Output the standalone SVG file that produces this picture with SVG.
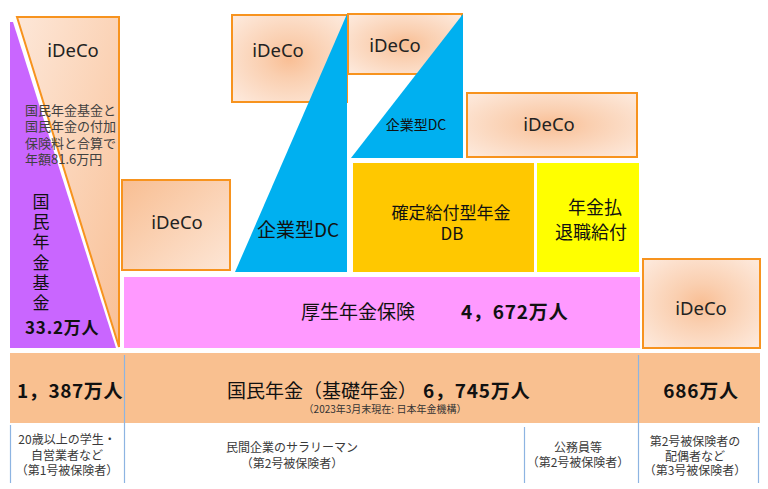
<svg xmlns="http://www.w3.org/2000/svg" width="768" height="489" viewBox="0 0 768 489">
<defs>
<radialGradient id="gR" cx="50%" cy="50%" r="65%">
<stop offset="0" stop-color="#F9BE94"/>
<stop offset="0.35" stop-color="#FACFB0"/>
<stop offset="1" stop-color="#FDE8DA"/>
</radialGradient>
<linearGradient id="gL" x1="0" y1="0" x2="1" y2="1">
<stop offset="0" stop-color="#F8BE92"/>
<stop offset="1" stop-color="#FDE6D6"/>
</linearGradient>
<linearGradient id="gT" x1="0" y1="0" x2="1" y2="1">
<stop offset="0" stop-color="#FDE7D8"/>
<stop offset="1" stop-color="#F9C096"/>
</linearGradient>
</defs>
<style>
.jp{font-family:"Noto Sans CJK JP","Noto Sans",sans-serif;fill:#111}
.ide{fill:url(#gR);stroke:#F7931E;stroke-width:2}
.lab{font-family:"Noto Sans","Noto Sans CJK JP",sans-serif;font-size:18.5px;fill:#222;text-anchor:middle}
.sm{font-family:"Noto Sans CJK JP",sans-serif;font-size:12px;fill:#3a3a3a;text-anchor:middle}
.b{font-weight:bold}
.vl{stroke:#8DB4E2;stroke-width:1.2}
</style>
<rect width="768" height="489" fill="#fff"/>

<g id="kokumin-kikin">
<polygon points="10,22 13,22 116,348 10,348" fill="#C966FF"/>
<text class="jp" x="41" y="193" font-size="17" writing-mode="tb" letter-spacing="3.2">国民年金基金</text>
<text class="jp b" x="25" y="334" font-size="17" letter-spacing="0.8">33.2万人</text>
</g>

<g id="ideco-1">
<polygon points="17,17 119,17 119,347" fill="url(#gT)" stroke="#F7931E" stroke-width="2"/>
<text class="lab" x="73" y="57">iDeCo</text>
<text class="jp" font-size="13" style="fill:#404040"><tspan x="25" y="115">国民年金基金と</tspan><tspan x="25" y="131">国民年金の付加</tspan><tspan x="25" y="148">保険料と合算で</tspan><tspan x="25" y="164">年額81.6万円</tspan></text>
</g>

<g id="ideco-2">
<rect class="ide" x="122" y="180" width="108" height="90" style="fill:url(#gL)"/>
<text class="lab" x="177" y="229">iDeCo</text>
</g>

<g id="ideco-3">
<rect class="ide" x="232" y="15" width="115" height="87"/>
<text class="lab" x="278" y="57">iDeCo</text>
</g>

<g id="dc-1">
<polygon points="347,14 347,272 235,272" fill="#00B0F0"/>
<text class="jp" x="298" y="237" font-size="19" text-anchor="middle">企業型DC</text>
</g>

<g id="ideco-4">
<rect class="ide" x="348" y="14" width="114" height="60"/>
<text class="lab" x="395" y="52">iDeCo</text>
</g>

<g id="dc-2">
<polygon points="463,14 463,158 351,158" fill="#00B0F0"/>
<text class="jp" x="416" y="130" font-size="14" text-anchor="middle">企業型DC</text>
</g>

<g id="ideco-5">
<rect class="ide" x="467" y="93" width="170" height="64"/>
<text class="lab" x="549" y="131">iDeCo</text>
</g>

<g id="db">
<rect x="353" y="163" width="181" height="109" fill="#FFC800"/>
<text class="jp" x="451" y="219" font-size="17" text-anchor="middle">確定給付型年金</text>
<text class="jp" x="452" y="240" font-size="17" text-anchor="middle">DB</text>
</g>

<g id="nenkin-barai">
<rect x="537" y="163" width="102" height="109" fill="#FFFF00"/>
<text class="jp" x="595" y="214" font-size="18" text-anchor="middle">年金払</text>
<text class="jp" x="591" y="239" font-size="18" text-anchor="middle">退職給付</text>
</g>

<g id="kosei">
<rect x="124" y="277" width="516" height="71" fill="#FF99FF"/>
<text class="jp" x="301" y="319" font-size="19">厚生年金保険</text>
<text class="jp b" x="461" y="319" font-size="19" letter-spacing="0.8">4，672万人</text>
</g>

<g id="ideco-6">
<rect class="ide" x="643" y="259" width="117" height="89"/>
<text class="lab" x="701" y="315">iDeCo</text>
</g>

<g id="kiso">
<rect x="10" y="353" width="750" height="70" fill="#F9C090"/>
<text class="jp b" x="17" y="398" font-size="19" letter-spacing="0.6">1，387万人</text>
<text class="jp" x="227" y="398" font-size="19">国民年金（基礎年金）</text>
<text class="jp b" x="423" y="398" font-size="19" letter-spacing="0.8">6，745万人</text>
<text class="jp" x="385" y="413" font-size="10" text-anchor="middle" style="fill:#333">（2023年3月末現在: 日本年金機構）</text>
<text class="jp b" x="701" y="398" font-size="19" text-anchor="middle" letter-spacing="0.8">686万人</text>
</g>

<g id="connectors">
<line class="vl" x1="10.5" y1="425" x2="10.5" y2="483"/>
<line class="vl" x1="124.5" y1="355" x2="124.5" y2="483" stroke="#8EA4C8"/>
<line class="vl" x1="524.5" y1="427" x2="524.5" y2="483"/>
<line class="vl" x1="638.5" y1="355" x2="638.5" y2="483" stroke="#8EA4C8"/>
<line class="vl" x1="758.5" y1="427" x2="758.5" y2="483"/>
</g>

<g id="labels">
<text class="sm"><tspan x="67" y="444">20歳以上の学生・</tspan><tspan x="67" y="460">自営業者など</tspan><tspan x="67" y="475">（第1号被保険者）</tspan></text>
<text class="sm"><tspan x="292" y="452">民間企業のサラリーマン</tspan><tspan x="292" y="468">（第2号被保険者）</tspan></text>
<text class="sm"><tspan x="578" y="452">公務員等</tspan><tspan x="578" y="467">（第2号被保険者）</tspan></text>
<text class="sm"><tspan x="695" y="446">第2号被保険者の</tspan><tspan x="695" y="461">配偶者など</tspan><tspan x="695" y="475">（第3号被保険者）</tspan></text>
</g>
</svg>
